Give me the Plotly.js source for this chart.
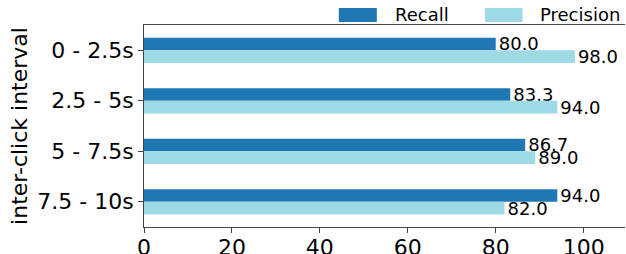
<!DOCTYPE html>
<html>
<head>
<meta charset="utf-8">
<script src="https://cdn.plot.ly/plotly-3.0.1.min.js"></script>
<style>html,body{margin:0;padding:0;background:#fff;}#chart{width:626px;height:254px;}</style>
</head>
<body>
<div id="chart"></div>
<script>
const categories = ["0 - 2.5s", "2.5 - 5s", "5 - 7.5s", "7.5 - 10s"];
const seriesNames = ["Recall", "Precision"];
const recall = [80.0, 83.3, 86.7, 94.0];
const precision = [98.0, 94.0, 89.0, 82.0];
const xTicks = [0, 20, 40, 60, 80, 100];
const colors = ["#1f77b4", "#9edae5"];

const font = "DejaVu Sans, sans-serif";
function barTrace(name, vals, color) {
  return {
    type: "bar", orientation: "h", name: name,
    x: vals, y: categories,
    marker: {color: color, line: {width: 0}},
    text: vals.map(v => v.toFixed(1)),
    textposition: "outside",
    constraintext: "none",
    textfont: {family: font, size: 18, color: "#000"},
    cliponaxis: false,
    hoverinfo: "none",
    showlegend: false
  };
}
const data = [barTrace(seriesNames[0], recall, colors[0]), barTrace(seriesNames[1], precision, colors[1])];

const legendPos = [
  {x0: 0.405, x1: 0.484, tx: 0.517},
  {x0: 0.709, x1: 0.787, tx: 0.819}
];
const shapes = seriesNames.map((n, i) => ({
  type: "rect", xref: "paper", yref: "paper",
  x0: legendPos[i].x0, x1: legendPos[i].x1, y0: 1.015, y1: 1.084,
  fillcolor: colors[i], line: {width: 0}
}));
const annotations = seriesNames.map((n, i) => ({
  xref: "paper", yref: "paper", x: legendPos[i].tx, y: 1.05,
  xanchor: "left", yanchor: "middle", text: n, showarrow: false,
  font: {family: font, size: 18, color: "#000"}
}));

const layout = {
  width: 626, height: 254,
  margin: {l: 144, r: 1, t: 25, b: 27, pad: 0},
  paper_bgcolor: "#fff", plot_bgcolor: "#fff",
  barmode: "group", bargap: 0.5, bargroupgap: 0,
  showlegend: false,
  font: {family: font, color: "#000"},
  xaxis: {
    range: [0, 109.4], tickvals: xTicks, ticktext: xTicks.map(String),
    showgrid: false, zeroline: false,
    showline: true, linecolor: "#444", linewidth: 1, mirror: true,
    ticks: "outside", ticklen: 5, tickwidth: 1, tickcolor: "#444",
    ticklabelstandoff: -4,
    tickfont: {family: font, size: 22, color: "#000"}
  },
  yaxis: {
    type: "category", range: [3.5, -0.5],
    showgrid: false, zeroline: false,
    showline: true, linecolor: "#444", linewidth: 1,
    ticks: "outside", ticklen: 5, tickwidth: 1, tickcolor: "#444",
    tickfont: {family: font, size: 22, color: "#000"},
    title: {text: "inter-click interval", font: {family: font, size: 22, color: "#000"}, standoff: 3}
  },
  shapes: shapes,
  annotations: annotations
};
Plotly.newPlot("chart", data, layout, {staticPlot: true, displayModeBar: false});
</script>
</body>
</html>
